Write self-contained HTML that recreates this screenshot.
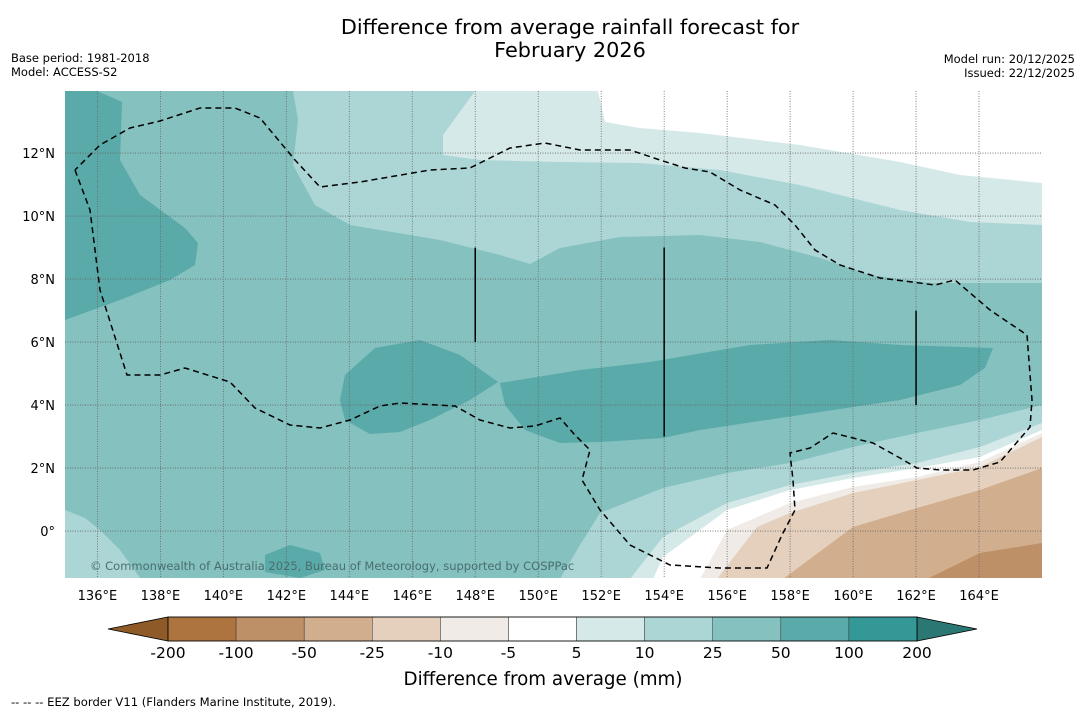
<!DOCTYPE html>
<html><head><meta charset="utf-8"><style>
body{margin:0;background:#fff;width:1085px;height:713px;overflow:hidden;font-family:"DejaVu Sans","Liberation Sans",sans-serif;}
svg text{font-family:"DejaVu Sans","Liberation Sans",sans-serif;}
</style></head><body>
<svg id="chart" width="1085" height="713" xmlns="http://www.w3.org/2000/svg">
<text x="570" y="34" font-size="20.8" text-anchor="middle">Difference from average rainfall forecast for</text>
<text x="570" y="57" font-size="20.8" text-anchor="middle">February 2026</text>
<text x="11" y="62" font-size="11.5">Base period: 1981-2018</text>
<text x="11" y="76" font-size="11.5">Model: ACCESS-S2</text>
<text x="1075" y="63" font-size="11.5" text-anchor="end">Model run: 20/12/2025</text>
<text x="1075" y="77" font-size="11.5" text-anchor="end">Issued: 22/12/2025</text>
<defs><clipPath id="mapclip"><rect x="65" y="91" width="977" height="487"/></clipPath></defs>
<g id="map" clip-path="url(#mapclip)"></g>
<g id="axes"></g>
<g id="cbar"></g>
<text x="543" y="685" font-size="18.3" text-anchor="middle">Difference from average (mm)</text>
<text x="11" y="706" font-size="11.6">--  --  -- EEZ border V11 (Flanders Marine Institute, 2019).</text>
</svg>
<script>
const levels=[-200,-100,-50,-25,-10,-5,5,10,25,50,100,200];
const colors=['#ad743f','#be9068','#d1ae8e','#e4d0bd','#f0ebe6','#ffffff','#d5e9e8','#acd6d5','#84c1bf','#5aaaaa','#349996'];
const lonTicks=[136,138,140,142,144,146,148,150,152,154,156,158,160,162,164];
const latTicks=[0,2,4,6,8,10,12];
const NS='http://www.w3.org/2000/svg';
const x0=65,x1=1042,y0=91,y1=578,lonMin=134.97,lonMax=166.0,latMin=-1.49,latMax=13.97;
const px=lon=>x0+(lon-lonMin)/(lonMax-lonMin)*(x1-x0);
const py=lat=>y1-(lat-latMin)/(latMax-latMin)*(y1-y0);
const g=(X,Y)=>[lonMin+(X-x0)/(x1-x0)*(lonMax-lonMin),latMin+(y1-Y)/(y1-y0)*(latMax-latMin)];
function el(t,a,p){const e=document.createElementNS(NS,t);for(const k in a)e.setAttribute(k,a[k]);(p||document.getElementById('chart')).appendChild(e);return e;}
const map=document.getElementById('map');
const P=pts=>pts.map(q=>g(q[0],q[1]));
const BR=[[1042,600],[500,600]];
const regions=[
 [8,P([[65,91],[1042,91],[1042,578],[65,578]])],
 [9,P([[65,91],[97,91],[122,102],[120,160],[140,195],[185,228],[198,243],[195,265],[170,280],[120,300],[65,320]])],
 [7,P([[293,91],[1042,91],[1042,283],[930,283],[870,275],[820,258],[760,242],[700,235],[620,237],[560,248],[530,264],[500,255],[440,240],[350,225],[315,205],[293,165],[298,120]])],
 [6,P([[475,91],[1042,91],[1042,225],[970,222],[900,210],[800,185],[720,170],[640,163],[560,162],[480,160],[443,155],[443,135]])],
 [5,P([[598,91],[1042,91],[1042,183],[960,175],[900,162],[800,145],[700,133],[640,128],[605,122]])],
 [9,P([[340,400],[345,375],[375,348],[420,340],[460,355],[498,382],[470,400],[430,420],[400,432],[370,434],[345,420]])],
 [9,P([[500,383],[580,370],[650,362],[750,345],[830,340],[900,345],[993,348],[985,368],[960,385],[900,400],[800,415],[700,430],[663,438],[600,442],[560,443],[525,430],[505,405]])],
 [7,P([[65,510],[85,518],[100,530],[120,550],[140,578],[65,578]])],
 [9,P([[265,555],[290,545],[320,553],[325,570],[300,578],[265,572]])],
 [7,P([[560,579],[580,545],[600,513],[663,488],[727,473],[790,463],[853,447],[917,433],[980,420],[1042,405]].concat(BR))],
 [6,P([[630,579],[663,537],[727,503],[790,485],[853,473],[917,463],[980,447],[1042,423]].concat(BR))],
 [5,P([[653,579],[663,557],[727,510],[790,490],[853,478],[917,468],[980,457],[1042,430]].concat(BR))],
 [4,P([[700,579],[727,530],[790,503],[853,487],[917,477],[980,462],[1042,433]].concat(BR))],
 [3,P([[717,579],[757,527],[790,513],[853,493],[917,480],[980,467],[1042,437]].concat(BR))],
 [2,P([[783,579],[853,527],[917,508],[980,490],[1042,468]].concat(BR))],
 [1,P([[927,579],[980,553],[1042,543]].concat(BR))]
];
regions.forEach((r,i)=>{
 const e=el('polygon',{points:r[1].map(q=>px(q[0])+','+py(q[1])).join(' '),fill:colors[r[0]]},map);
 
 
});
lonTicks.forEach(l=>{const e=el('line',{x1:px(l),x2:px(l),y1:y0,y2:y1,stroke:'#666','stroke-width':0.8,'stroke-dasharray':'1,1.5'},map);
 });
latTicks.forEach(l=>{const e=el('line',{x1:x0,x2:x1,y1:py(l),y2:py(l),stroke:'#666','stroke-width':0.8,'stroke-dasharray':'1,1.5'},map);
 });
const eez=P([[75,170],[90,210],[100,290],[127,375],[160,375],[185,368],[230,382],[255,408],[290,425],[320,428],[350,420],[380,406],[400,403],[455,406],[480,420],[510,428],[535,426],[560,418],[575,435],[590,450],[582,480],[600,510],[630,545],[670,565],[720,568],[767,568],[782,535],[795,510],[793,480],[790,453],[810,448],[833,433],[873,443],[900,458],[917,468],[940,470],[973,470],[1000,462],[1030,427],[1032,400],[1027,335],[990,310],[955,280],[935,285],[880,278],[840,265],[815,250],[795,225],[775,205],[740,190],[710,172],[685,168],[660,160],[630,150],[580,150],[545,143],[510,148],[470,168],[430,170],[360,182],[320,187],[295,160],[260,118],[235,108],[200,108],[160,121],[130,128],[100,145],[75,170]]);
let e=el('polyline',{points:eez.map(q=>px(q[0])+','+py(q[1])).join(' '),fill:'none',stroke:'#000','stroke-width':1.5,'stroke-dasharray':'6,4'},map);

[[148,6,9],[154,3,9],[162,4,7]].forEach(s=>{const e=el('line',{x1:px(s[0]),x2:px(s[0]),y1:py(s[1]),y2:py(s[2]),stroke:'#000','stroke-width':1.5},map);
 });
e=el('text',{x:90,y:570,'font-size':11.5,fill:'#4a6e6e'},map);e.textContent='© Commonwealth of Australia 2025, Bureau of Meteorology, supported by COSPPac';

const ax=document.getElementById('axes');
lonTicks.forEach(l=>{const t=el('text',{x:px(l),y:600,'font-size':13,'text-anchor':'middle'},ax);t.textContent=l+'°E';
 });
latTicks.forEach(l=>{const t=el('text',{x:55,y:py(l)+5,'font-size':13,'text-anchor':'end'},ax);t.textContent=l===0?'0°':l+'°N';
 });
const cb=document.getElementById('cbar');const cx0=168,cx1=917,cy=617,ch=24,w=(cx1-cx0)/colors.length;
e=el('polygon',{points:`108,629 ${cx0},${cy} ${cx0},${cy+ch}`,fill:'#8d5a28',stroke:'#000','stroke-width':0.8},cb);

e=el('polygon',{points:`977,629 ${cx1},${cy} ${cx1},${cy+ch}`,fill:'#2a7773',stroke:'#000','stroke-width':0.8},cb);

colors.forEach((c,i)=>{const r=el('rect',{x:cx0+i*w,y:cy,width:w,height:ch,fill:c,stroke:'#333','stroke-width':0.5},cb);
 });
levels.forEach((v,i)=>{const t=el('text',{x:cx0+i*w,y:658,'font-size':15.5,'text-anchor':'middle'},cb);t.textContent=v;
 });
el('rect',{x:cx0,y:cy,width:cx1-cx0,height:ch,fill:'none',stroke:'#000','stroke-width':0.8},cb);
</script>
</body></html>
